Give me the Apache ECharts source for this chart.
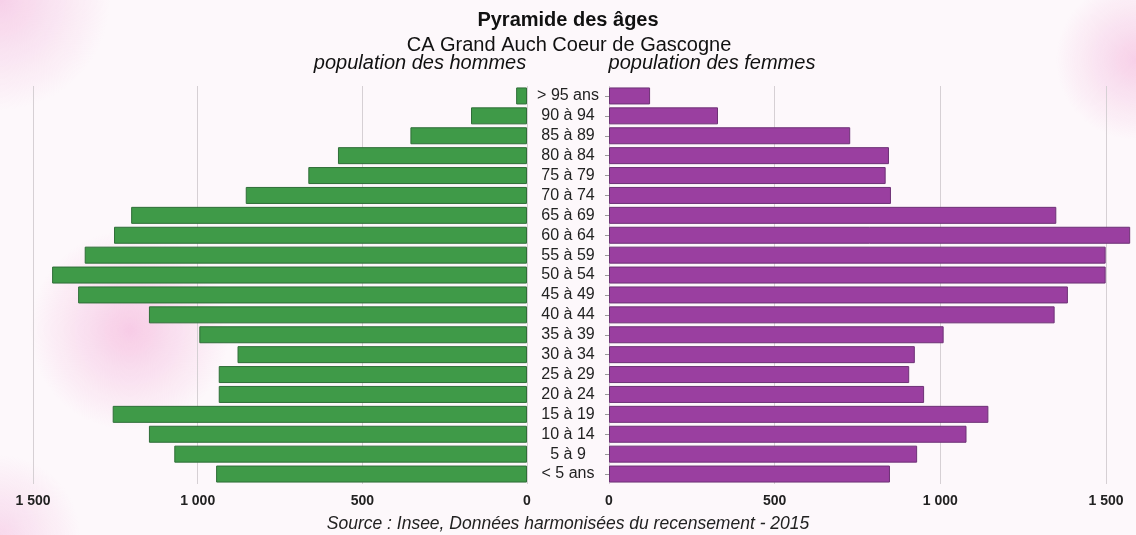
<!DOCTYPE html>
<html>
<head>
<meta charset="utf-8">
<script src="https://cdn.jsdelivr.net/npm/echarts@6/dist/echarts.min.js"></script>
<style>
html,body{margin:0;padding:0;background:#fdf8fb;}
#chart{width:1136px;height:535px;}
</style>
</head>
<body>
<div id="chart"></div>
<script>
// Categories, top to bottom
const ageGroups = ['> 95 ans','90 à 94','85 à 89','80 à 84','75 à 79','70 à 74','65 à 69','60 à 64','55 à 59','50 à 54','45 à 49','40 à 44','35 à 39','30 à 34','25 à 29','20 à 24','15 à 19','10 à 14','5 à 9','< 5 ans'];
const hommes = [33, 170, 354, 574, 664, 854, 1202, 1254, 1343, 1442, 1363, 1148, 995, 879, 936, 936, 1258, 1148, 1071, 944];
const femmes = [124, 329, 728, 845, 835, 851, 1350, 1573, 1499, 1499, 1385, 1345, 1010, 923, 906, 951, 1145, 1079, 930, 848];
const axisTicks = [0, 500, 1000, 1500];

const titleText = 'Pyramide des âges';
const subtitleText = 'CA Grand Auch Coeur de Gascogne';
const menLabel = 'population des hommes';
const womenLabel = 'population des femmes';
const sourceText = 'Source : Insee, Données harmonisées du recensement - 2015';

const FONT = '"Liberation Sans", Arial, sans-serif';
const fmt = v => v >= 1000 ? String(v).replace(/\B(?=(\d{3})+(?!\d))/g, ' ') : String(v);

const chart = echarts.init(document.getElementById('chart'));

const xCommon = {
  type: 'value', min: axisTicks[0], max: axisTicks[axisTicks.length - 1], interval: 500,
  axisLine: {show: false}, axisTick: {show: false},
  splitLine: {show: true, lineStyle: {color: '#d6d0d4', width: 1}},
  axisLabel: {formatter: fmt, color: '#222', fontSize: 14, fontWeight: 'bold', fontFamily: FONT, margin: 10}
};

chart.setOption({
  backgroundColor: 'transparent',
  animation: false,
  graphic: [
    {type: 'circle', shape: {cx: 0, cy: 0, r: 110}, silent: true, z: -10,
      style: {fill: {type: 'radial', x: 0.5, y: 0.5, r: 0.5, colorStops: [{offset: 0, color: 'rgba(240,170,215,0.5)'}, {offset: 1, color: 'rgba(240,170,215,0)'}]}}},
    {type: 'circle', shape: {cx: 130, cy: 330, r: 100}, silent: true, z: -10,
      style: {fill: {type: 'radial', x: 0.5, y: 0.5, r: 0.5, colorStops: [{offset: 0, color: 'rgba(240,150,205,0.45)'}, {offset: 1, color: 'rgba(240,150,205,0)'}]}}},
    {type: 'circle', shape: {cx: 1136, cy: 60, r: 80}, silent: true, z: -10,
      style: {fill: {type: 'radial', x: 0.5, y: 0.5, r: 0.5, colorStops: [{offset: 0, color: 'rgba(240,160,210,0.45)'}, {offset: 1, color: 'rgba(240,160,210,0)'}]}}},
    {type: 'circle', shape: {cx: 0, cy: 535, r: 80}, silent: true, z: -10,
      style: {fill: {type: 'radial', x: 0.5, y: 0.5, r: 0.5, colorStops: [{offset: 0, color: 'rgba(240,170,215,0.4)'}, {offset: 1, color: 'rgba(240,170,215,0)'}]}}},
    {type: 'text', x: 568, y: 20, style: {text: titleText, font: 'bold 20px ' + FONT, fill: '#111', textAlign: 'center', textVerticalAlign: 'middle'}},
    {type: 'text', x: 569, y: 45, style: {text: subtitleText, font: '20px ' + FONT, fill: '#111', textAlign: 'center', textVerticalAlign: 'middle'}},
    {type: 'text', x: 420, y: 63, style: {text: menLabel, font: 'italic 20px ' + FONT, fill: '#111', textAlign: 'center', textVerticalAlign: 'middle'}},
    {type: 'text', x: 712, y: 63, style: {text: womenLabel, font: 'italic 20px ' + FONT, fill: '#111', textAlign: 'center', textVerticalAlign: 'middle'}},
    {type: 'text', x: 568, y: 524, style: {text: sourceText, font: 'italic 17.5px ' + FONT, fill: '#222', textAlign: 'center', textVerticalAlign: 'middle'}}
  ],
  grid: [
    {left: 33, width: 494, top: 86, height: 398},
    {left: 609, width: 497, top: 86, height: 398}
  ],
  xAxis: [
    Object.assign({gridIndex: 0, inverse: true}, xCommon),
    Object.assign({gridIndex: 1}, xCommon)
  ],
  yAxis: [
    {type: 'category', gridIndex: 0, data: ageGroups, inverse: true,
      axisLine: {show: false}, axisTick: {show: false}, axisLabel: {show: false}},
    {type: 'category', gridIndex: 1, data: ageGroups, inverse: true,
      axisLine: {show: false},
      axisTick: {show: true, length: 4, alignWithLabel: true, interval: 0, lineStyle: {color: '#999'}},
      axisLabel: {color: '#222', fontSize: 16, fontFamily: FONT, align: 'center', margin: 41, interval: 0, hideOverlap: false}}
  ],
  series: [
    {name: 'Hommes', type: 'bar', xAxisIndex: 0, yAxisIndex: 0, data: hommes, barWidth: 17, clip: false,
      itemStyle: {color: '#3f9a48', borderColor: '#2f6e38', borderWidth: 1}},
    {name: 'Femmes', type: 'bar', xAxisIndex: 1, yAxisIndex: 1, data: femmes, barWidth: 17, clip: false,
      itemStyle: {color: '#9a3fa0', borderColor: '#6e3276', borderWidth: 1}}
  ]
});
</script>
</body>
</html>
